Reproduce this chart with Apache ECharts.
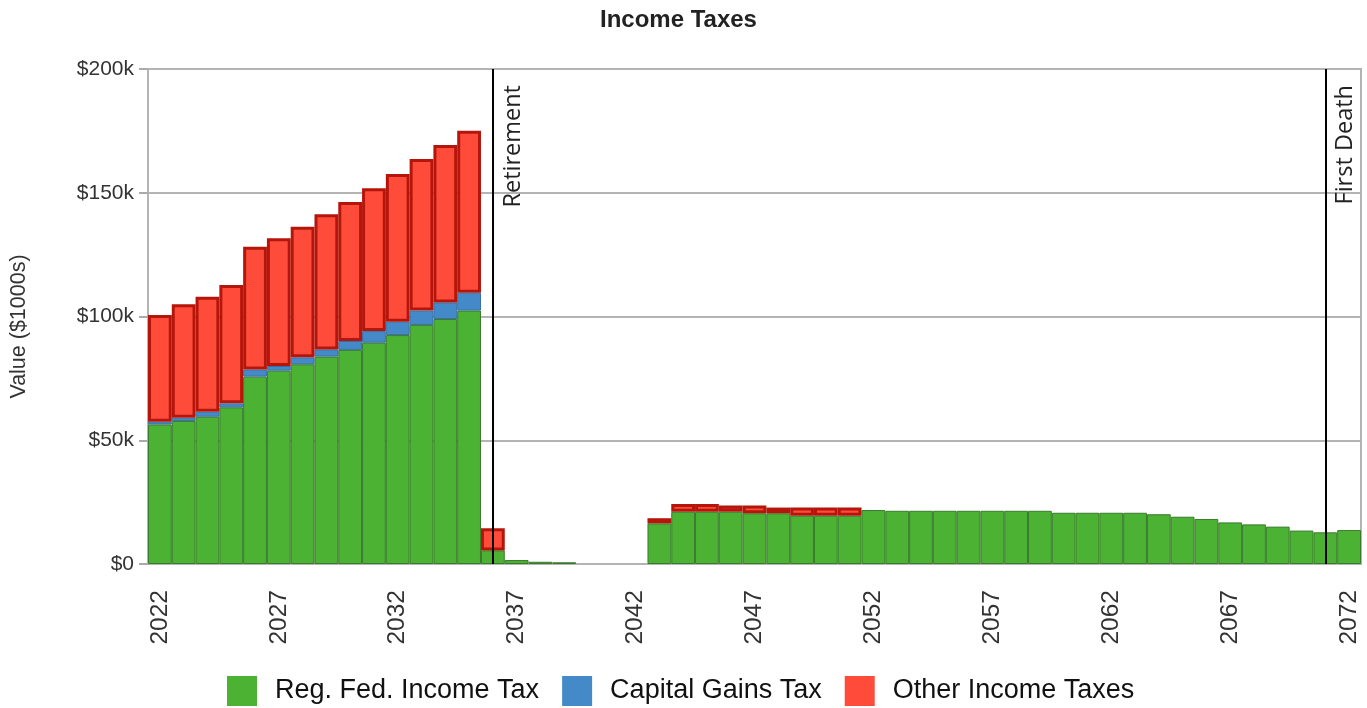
<!DOCTYPE html>
<html>
<head>
<meta charset="utf-8">
<script src="https://cdn.jsdelivr.net/npm/echarts@6/dist/echarts.min.js"></script>
<style>
  html, body { margin: 0; padding: 0; background: #fff; }
  #chart { width: 1367px; height: 708px; }
</style>
</head>
<body>
<div id="chart"></div>
<script>
// ---- data (values in $1000s) ----
const years = ['2022','2023','2024','2025','2026','2027','2028','2029','2030','2031',
  '2032','2033','2034','2035','2036','2037','2038','2039','2040','2041',
  '2042','2043','2044','2045','2046','2047','2048','2049','2050','2051',
  '2052','2053','2054','2055','2056','2057','2058','2059','2060','2061',
  '2062','2063','2064','2065','2066','2067','2068','2069','2070','2071','2072'];

const regFedIncomeTax = [56.4, 57.8, 59.5, 63.3, 75.7, 78.1, 80.7, 83.8, 86.5, 89.4,
  92.5, 96.6, 99.0, 102.4, 5.5, 1.6, 0.9, 0.7, 0, 0,
  0, 16.4, 21.1, 21.1, 21.1, 20.5, 20.5, 19.5, 19.5, 19.5,
  21.8, 21.5, 21.5, 21.5, 21.5, 21.5, 21.5, 21.5, 20.7, 20.7,
  20.7, 20.7, 20.1, 19.1, 18.2, 16.8, 16.0, 15.1, 13.5, 12.8, 13.7];

const capitalGainsTax = [1.1, 1.3, 2.0, 1.6, 2.9, 1.9, 2.8, 2.9, 3.6, 4.7,
  5.4, 5.8, 6.7, 7.2, 0, 0, 0, 0, 0, 0,
  0, 0, 0, 0, 0, 0, 0, 0, 0, 0,
  0, 0, 0, 0, 0, 0, 0, 0, 0, 0,
  0, 0, 0, 0, 0, 0, 0, 0, 0, 0, 0];

const otherIncomeTaxes = [43.1, 45.8, 46.5, 47.8, 49.6, 51.6, 52.8, 54.6, 56.2, 57.7,
  59.7, 61.2, 63.6, 65.4, 8.9, 0, 0, 0, 0, 0,
  0, 2.1, 3.1, 3.1, 2.5, 3.1, 2.3, 3.3, 3.3, 3.3,
  0, 0, 0, 0, 0, 0, 0, 0, 0, 0,
  0, 0, 0, 0, 0, 0, 0, 0, 0, 0, 0];

const seriesNames = ['Reg. Fed. Income Tax', 'Capital Gains Tax', 'Other Income Taxes'];
const yTicks = [0, 50, 100, 150, 200];
const eventYears = ['2036', '2071'];
const eventLabels = ['Retirement', 'First Death'];

// ---- chart ----
const chart = echarts.init(document.getElementById('chart'), null, { renderer: 'canvas' });
const nz = arr => arr.map(v => (v === 0 ? '-' : v));
const FONT = '"Liberation Sans", Arial, sans-serif';

const option = {
  animation: false,
  backgroundColor: '#ffffff',
  title: {
    text: 'Income Taxes',
    left: 595,
    top: 3,
    textStyle: { fontFamily: FONT, fontSize: 24, fontWeight: 'bold', color: '#222' }
  },
  legend: {
    data: seriesNames,
    left: 222,
    top: 671,
    itemWidth: 30,
    itemHeight: 30,
    itemGap: 23,
    icon: 'rect',
    itemStyle: { borderWidth: 0 },
    textStyle: { fontFamily: FONT, fontSize: 27, color: '#111', padding: [0, 0, 0, 13] }
  },
  grid: {
    left: 147, right: 6, top: 69, bottom: 144,
    show: true, borderColor: '#b4b4b4', borderWidth: 2, backgroundColor: 'transparent'
  },
  xAxis: {
    type: 'category',
    data: years,
    boundaryGap: true,
    axisLine: { lineStyle: { color: '#b4b4b4', width: 2 } },
    axisTick: { alignWithLabel: true, interval: 4, length: 8, lineStyle: { color: '#aaaaaa', width: 2 } },
    axisLabel: { interval: 4, rotate: 90, margin: 26, fontFamily: FONT, fontSize: 24.5, color: '#333' },
    splitLine: { show: false }
  },
  yAxis: {
    type: 'value',
    min: yTicks[0],
    max: yTicks[yTicks.length - 1],
    interval: yTicks[1] - yTicks[0],
    name: 'Value ($1000s)',
    nameLocation: 'middle',
    nameRotate: 90,
    nameGap: 118,
    nameTextStyle: { fontFamily: FONT, fontSize: 21.5, color: '#333', padding: [0, 20, 0, 0] },
    axisLine: { show: true, lineStyle: { color: '#b4b4b4', width: 2 } },
    axisTick: { show: true, length: 9, lineStyle: { color: '#aaaaaa', width: 2 } },
    axisLabel: {
      margin: 14, fontFamily: FONT, fontSize: 21, color: '#333',
      formatter: v => (v === 0 ? '$0' : '$' + v + 'k')
    },
    splitLine: { lineStyle: { color: '#b4b4b4', width: 2 } }
  },
  series: [
    {
      name: seriesNames[0], type: 'bar', stack: 'tax', barCategoryGap: '0%',
      data: nz(regFedIncomeTax),
      itemStyle: { color: '#4bb233', borderColor: '#3a7a2c', borderWidth: 1 },
      markLine: {
        silent: true, symbol: 'none',
        lineStyle: { color: '#000', width: 2, type: 'solid' },
        label: {
          show: true, position: 'insideEndBottom', distance: [16, 8],
          fontFamily: '"Open Sans", "Noto Sans", sans-serif', fontSize: 23.5, color: '#222'
        },
        data: eventYears.map((y, i) => ({ xAxis: y, label: { formatter: eventLabels[i] } }))
      },
      z: 2
    },
    {
      name: seriesNames[1], type: 'bar', stack: 'tax', barCategoryGap: '0%',
      data: nz(capitalGainsTax),
      itemStyle: { color: '#458ac8', borderColor: '#356fa5', borderWidth: 1 },
      z: 2
    },
    {
      name: seriesNames[2], type: 'bar', stack: 'tax', barCategoryGap: '0%',
      data: nz(otherIncomeTaxes),
      itemStyle: { color: '#ff4b3a', borderColor: '#b5160b', borderWidth: 3 },
      z: 2
    }
  ]
};
chart.setOption(option);
</script>
</body>
</html>
